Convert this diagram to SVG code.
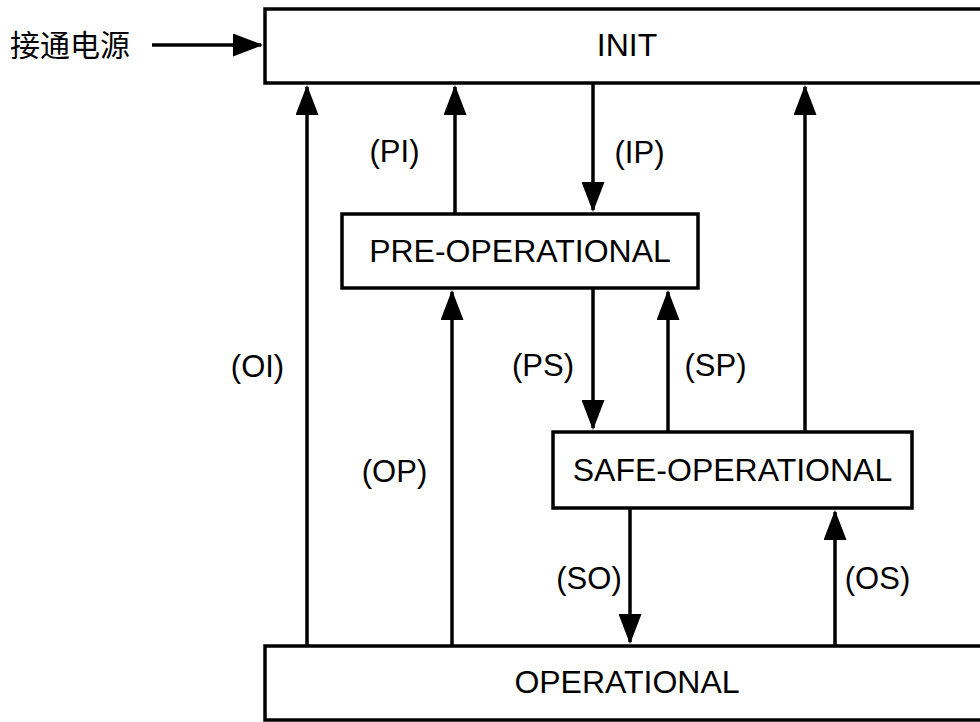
<svg xmlns="http://www.w3.org/2000/svg" width="980" height="722" viewBox="0 0 980 722">
  <style>
    .box { fill: #ffffff; stroke: #000000; stroke-width: 3.5; }
    .node-text { font-family: "Liberation Sans", Arial, sans-serif; font-size: 32px; fill: #000000; text-anchor: middle; }
    .label { font-family: "Liberation Sans", Arial, sans-serif; font-size: 31px; fill: #000000; text-anchor: middle; }
    .cjk { font-family: "Noto Sans CJK SC", "Noto Sans CJK JP", sans-serif; font-size: 30px; fill: #000000; }
    .edge { fill: none; stroke: #000000; stroke-width: 3.5; marker-end: url(#arrow); }
  </style>
  <defs>
    <marker id="arrow" markerUnits="userSpaceOnUse" markerWidth="30" markerHeight="23" refX="28" refY="11.5" orient="auto">
      <path d="M0,0 L30,11.5 L0,23 Z" fill="#000000"/>
    </marker>
  </defs>
  <rect width="980" height="722" fill="#ffffff"/>

  <g id="node-init">
    <rect class="box" x="265" y="9" width="724" height="74"/>
    <text class="node-text" x="627" y="56">INIT</text>
  </g>
  <g id="node-preop">
    <rect class="box" x="342" y="214" width="356" height="74"/>
    <text class="node-text" x="520" y="262">PRE-OPERATIONAL</text>
  </g>
  <g id="node-safeop">
    <rect class="box" x="553" y="432" width="359" height="76"/>
    <text class="node-text" x="732.5" y="481">SAFE-OPERATIONAL</text>
  </g>
  <g id="node-op">
    <rect class="box" x="265" y="646" width="724" height="74"/>
    <text class="node-text" x="627" y="693">OPERATIONAL</text>
  </g>
  <g id="power-on">
    <text class="cjk" x="10" y="56">接通电源</text>
  </g>

  <g id="connectors">
    <line class="edge" x1="152" y1="45" x2="261" y2="45"/>
    <line class="edge" x1="307" y1="646" x2="307" y2="87"/>
    <line class="edge" x1="455" y1="214" x2="455" y2="87"/>
    <line class="edge" x1="593" y1="83" x2="593" y2="210"/>
    <line class="edge" x1="805" y1="432" x2="805" y2="87"/>
    <line class="edge" x1="452" y1="646" x2="452" y2="292"/>
    <line class="edge" x1="593" y1="288" x2="593" y2="428"/>
    <line class="edge" x1="668" y1="432" x2="668" y2="292"/>
    <line class="edge" x1="630" y1="508" x2="630" y2="642"/>
    <line class="edge" x1="835" y1="646" x2="835" y2="512"/>
    <text class="label" x="394.5" y="162">(PI)</text>
    <text class="label" x="639.5" y="163">(IP)</text>
    <text class="label" x="257.5" y="377">(OI)</text>
    <text class="label" x="543" y="376">(PS)</text>
    <text class="label" x="715.5" y="376">(SP)</text>
    <text class="label" x="394.5" y="482">(OP)</text>
    <text class="label" x="589" y="589">(SO)</text>
    <text class="label" x="877.5" y="589">(OS)</text>
  </g>
</svg>
